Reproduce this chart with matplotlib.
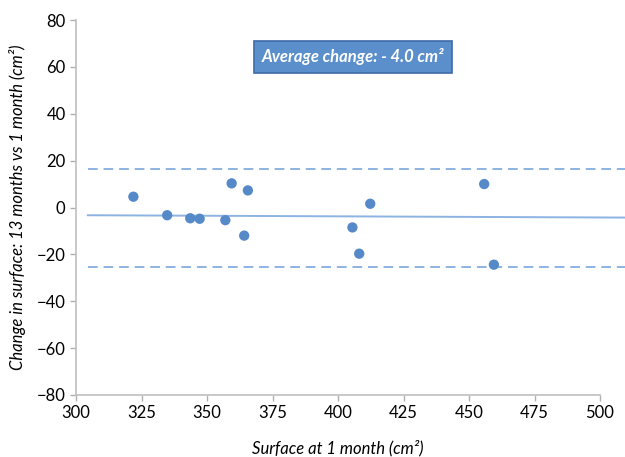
import numpy as np
import matplotlib.pyplot as plt

# surface at 1 month (cm2) and change 13 months vs 1 month (cm2)
surface_1m = [321.9, 334.8, 343.6, 347.2, 357.0, 359.4, 364.2, 365.6,
              405.5, 408.1, 412.3, 455.8, 459.5]
change = [4.6, -3.3, -4.6, -4.8, -5.4, 10.3, -12.0, 7.3,
          -8.5, -19.7, 1.6, 10.0, -24.4]

# trend and limits of agreement, drawn over this x range
line_x = [304.5, 509.5]
trend_y = [-3.3, -4.3]
upper_limit = 16.5
lower_limit = -25.2

x_ticks = [300, 325, 350, 375, 400, 425, 450, 475, 500]
y_ticks = [-80, -60, -40, -20, 0, 20, 40, 60, 80]

plt.rcParams['font.family'] = ['Lato', 'DejaVu Sans']

fig = plt.figure(figsize=(6.25, 4.57), dpi=100)
ax = fig.add_axes([0.1216, 0.1357, 0.8384, 0.8205])

pt_color = '#5689c8'
ln_color = '#8db3e2'

ax.plot(line_x, trend_y, color=ln_color, lw=1.4, clip_on=False, zorder=2)
ax.plot(line_x, [upper_limit] * 2, color=ln_color, lw=1.4, ls=(0, (5, 3)),
        clip_on=False, zorder=2)
ax.plot(line_x, [lower_limit] * 2, color=ln_color, lw=1.4, ls=(0, (5, 3)),
        clip_on=False, zorder=2)
ax.scatter(surface_1m, change, s=55, color=pt_color, edgecolors='none', zorder=3)

ax.set_xlim(300, 500)
ax.set_ylim(-80, 80)
ax.set_xticks(x_ticks)
ax.set_yticks(y_ticks)
ax.tick_params(labelsize=12, colors='#b0b0b0', labelcolor='black', length=4, width=1)

for s in ['top', 'right']:
    ax.spines[s].set_visible(False)
for s in ['left', 'bottom']:
    ax.spines[s].set_color('#bfbfbf')
    ax.spines[s].set_linewidth(1.2)

ax.set_xlabel('Surface at 1 month (cm²)', fontsize=12, style='italic', labelpad=13)
ax.set_ylabel('Change in surface: 13 months vs 1 month (cm²)', fontsize=12,
              style='italic', labelpad=8)

ax.text(0.565, 0.876, 'Average change: - 4.0 cm²', transform=fig.transFigure,
        ha='center', va='center', color='white', fontsize=12, style='italic',
        fontweight='bold',
        bbox=dict(boxstyle='square,pad=0.45', facecolor='#5b8fcb',
                  edgecolor='#3d6ba8', linewidth=1.2))

fig.savefig('out.png', dpi=100)
